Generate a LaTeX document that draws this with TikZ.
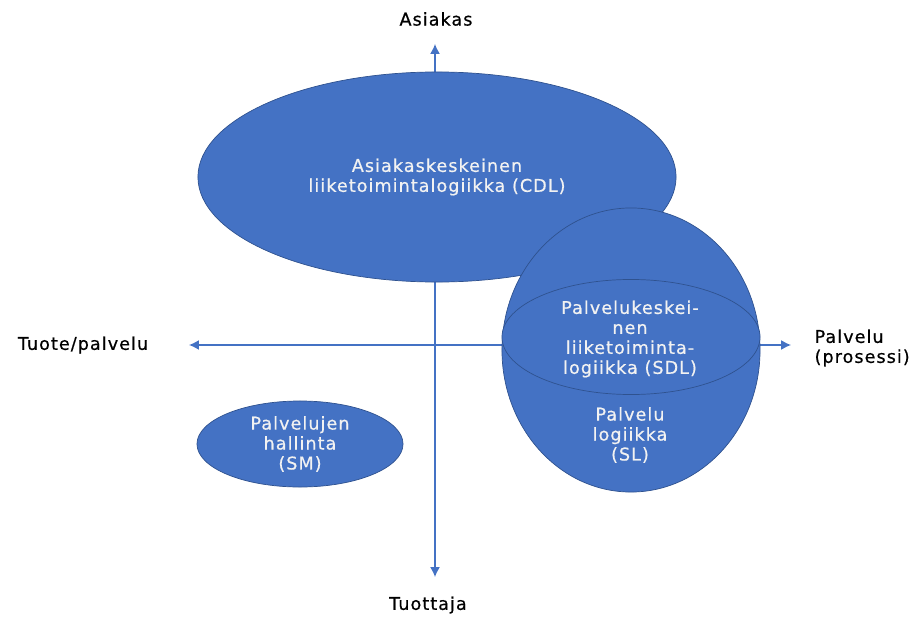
\documentclass[tikz,border=0pt]{standalone}
\usepackage{fontspec}
\setmainfont[LetterSpace=6,FakeBold=0.6]{DejaVu Sans}
\usetikzlibrary{shapes.geometric,arrows.meta}
\definecolor{blobfill}{HTML}{4472C4}
\definecolor{blobline}{HTML}{2F528F}
\begin{document}
\begin{tikzpicture}[x=0.025cm,y=-0.025cm,font=\fontsize{12.5}{14.2}\selectfont]
        \tikzstyle{blob}=[ellipse,draw=blobline,line width=0.5pt,fill=blobfill,inner sep=0pt]
        \tikzstyle{intext}=[align=center,text=white!95!black]
        \tikzstyle{axis}=[draw=blobfill,line width=0.9pt,-{Latex[length=7pt,width=7pt]}]
        \useasboundingbox (0,0) rectangle (912,617);
        % axes
        \coordinate (o) at (435,345);
        \coordinate (up) at (435,44);
        \coordinate (down) at (435,577);
        \coordinate (left) at (189,345);
        \coordinate (right) at (791,345);
        \path[axis] (o) -- (up);
        \path[axis] (o) -- (down);
        \path[axis] (o) -- (left);
        \path[axis] (o) -- (right);
        \node (asiakas) at (436,19) {Asiakas};
        \node (tuottaja) at (428,605) {Tuottaja};
        \node (tuote) at (83,345) {Tuote/palvelu};
        \node [align=left,anchor=east,inner xsep=0pt] (palvelu) at (910,348) {Palvelu\\(prosessi)};
        % areas
        \node [blob,minimum width=11.95cm,minimum height=5.25cm,intext] (cdl) at (437,177) {Asiakaskeskeinen\\liiketoimintalogiikka (CDL)};
        \node [blob,minimum width=6.45cm,minimum height=7.1cm] (sl) at (631,350) {};
        \node [blob,minimum width=6.45cm,minimum height=2.875cm] (sdl) at (631,337) {};
        \node [intext] (sdltext) at (630,339) {Palvelukeskei-\\nen\\liiketoiminta-\\logiikka (SDL)};
        \node [intext] (sltext) at (630,435) {Palvelu\\logiikka\\(SL)};
        \node [blob,minimum width=5.15cm,minimum height=2.15cm,intext] (sm) at (300,444) {Palvelujen\\hallinta\\(SM)};
\end{tikzpicture}
\end{document}
